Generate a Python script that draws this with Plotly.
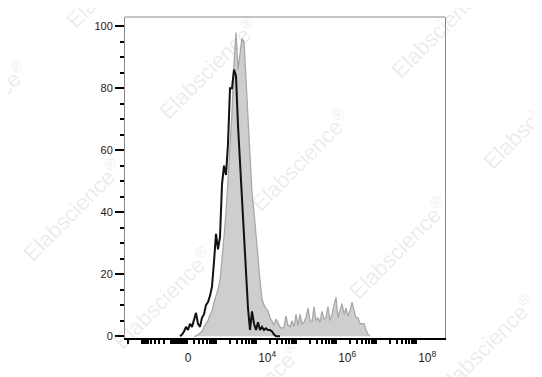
import numpy as np
import plotly.graph_objects as go

# histogram bins, in display (logicle) units: one bin = 0.05 decade
bin_width = 0.05

# stained sample (grey filled)
gray_start = 2.4
gray_counts = [0, 0, 0.5, 1, 1.5, 3, 4, 5, 7, 8,
               11, 13, 15, 18, 24, 32, 40, 50, 62, 72,
               88, 98, 86, 92, 96, 95, 82, 70, 56, 46,
               40, 32, 24, 18, 12, 10, 9, 8, 6, 4.5,
               3.5, 5.5, 4, 3, 2.5, 3, 6.5, 3.5, 3, 5,
               3, 7, 3.5, 7, 4, 4.5, 6, 9, 5, 4.5,
               9.5, 5, 6, 4.5, 8, 5.5, 6, 9.5, 5, 7,
               10, 12.5, 6, 8, 10.5, 7, 9, 6.5, 8, 11,
               8, 6, 6, 4, 4, 4, 2, 0.5, 0]

# control (black line)
black_start = 2.05
black_counts = [0, 0.5, 1.5, 3, 2, 4, 3, 5, 7.5, 4,
                3, 6, 7, 10, 11, 13, 16, 24, 33, 28,
                32, 49, 55, 52, 62, 80, 80, 86, 84, 68,
                56, 44, 30, 20, 9, 2, 8, 4, 2, 4.5,
                2, 3, 2, 2.5, 2, 2, 1.5, 0.5, 0, 0, 0]

label_vals = [0, 1e4, 1e6, 1e8]
label_text = ["0", "10<sup>4</sup>", "10<sup>6</sup>", "10<sup>8</sup>"]
y_ticks = [0, 20, 40, 60, 80, 100]


def logicle(v):
    return 2.025 + np.arcsinh(np.asarray(v, dtype=float) / 212.0) / np.log(10)


gray_x = gray_start + bin_width * np.arange(len(gray_counts))
black_x = black_start + bin_width * np.arange(len(black_counts))

major_vals = [-1000, 0, 1000, 1e4, 1e5, 1e6, 1e7, 1e8]
minor_vals = []
for n in range(1, 8):
    for k in range(1, 10):
        v = k * 10 ** n
        if v not in major_vals:
            minor_vals.append(v)
        if n <= 2 and -v not in major_vals:
            minor_vals.append(-v)
minor_vals.append(-2000)

x_range = [0.675, 8.675]
tick_font = dict(family="Liberation Sans, Arial", size=11, color="#222222")

fig = go.Figure()
fig.add_trace(go.Scatter(x=gray_x, y=gray_counts, mode="lines",
                         line=dict(color="rgb(168,168,168)", width=1.3),
                         fill="tozeroy", fillcolor="rgb(206,206,206)",
                         hoverinfo="skip"))
fig.add_trace(go.Scatter(x=black_x, y=black_counts, mode="lines",
                         line=dict(color="#111111", width=2),
                         hoverinfo="skip"))

# page body has an 8px margin, so the figure is drawn 8px in from the corner
fig.update_layout(
    width=534, height=369,
    margin=dict(l=117, r=97, t=9, b=39),
    paper_bgcolor="white", plot_bgcolor="white",
    showlegend=False,
    font=tick_font,
    xaxis=dict(range=x_range, tickmode="array",
               tickvals=list(logicle(label_vals) + 0.23), ticktext=label_text,
               ticks="outside", ticklen=8, tickcolor="rgba(0,0,0,0)",
               tickfont=dict(tick_font, size=12),
               showline=True, linecolor="black", linewidth=2,
               showgrid=False, zeroline=False,
               minor=dict(tickmode="array", tickvals=list(logicle(minor_vals)),
                          ticks="outside", ticklen=4, tickwidth=1.5,
                          tickcolor="black")),
    xaxis2=dict(range=x_range, overlaying="x", anchor="y", side="bottom",
                tickmode="array", tickvals=list(logicle(major_vals)),
                ticks="outside", ticklen=8, tickwidth=2, tickcolor="black",
                showticklabels=False, showline=False, showgrid=False,
                zeroline=False),
    yaxis=dict(range=[-0.6, 103], tickmode="array", tickvals=y_ticks,
               ticks="outside", ticklen=9, tickwidth=2, tickcolor="black",
               tickfont=tick_font,
               minor=dict(dtick=5, ticks="outside", ticklen=4, tickwidth=1.5,
                          tickcolor="black"),
               showline=True, linecolor="#8a8a8a", linewidth=1, mirror=True,
               showgrid=False, zeroline=False),
    shapes=[dict(type="line", xref="paper", yref="paper", x0=0, x1=1, y0=1, y1=1,
                 line=dict(color="#8a8a8a", width=1))],
)

# watermark (centres in page pixels)
marks = [(115, -23), (-22, 112), (208, 68), (72, 210), (162, 298), (300, 160),
         (440, 27), (532, 118), (398, 248), (485, 345), (252, 393)]
for px, py in marks:
    fig.add_annotation(x=(px - 125) / 320, y=(338 - py) / 321, xref="paper", yref="paper",
                       text="Elabscience<sup>®</sup>", showarrow=False, textangle=-45,
                       font=dict(size=22, color="rgba(140,140,140,0.18)",
                                 family="Liberation Sans, Arial"),
                       xanchor="center", yanchor="middle")

fig.write_html("out.html")
